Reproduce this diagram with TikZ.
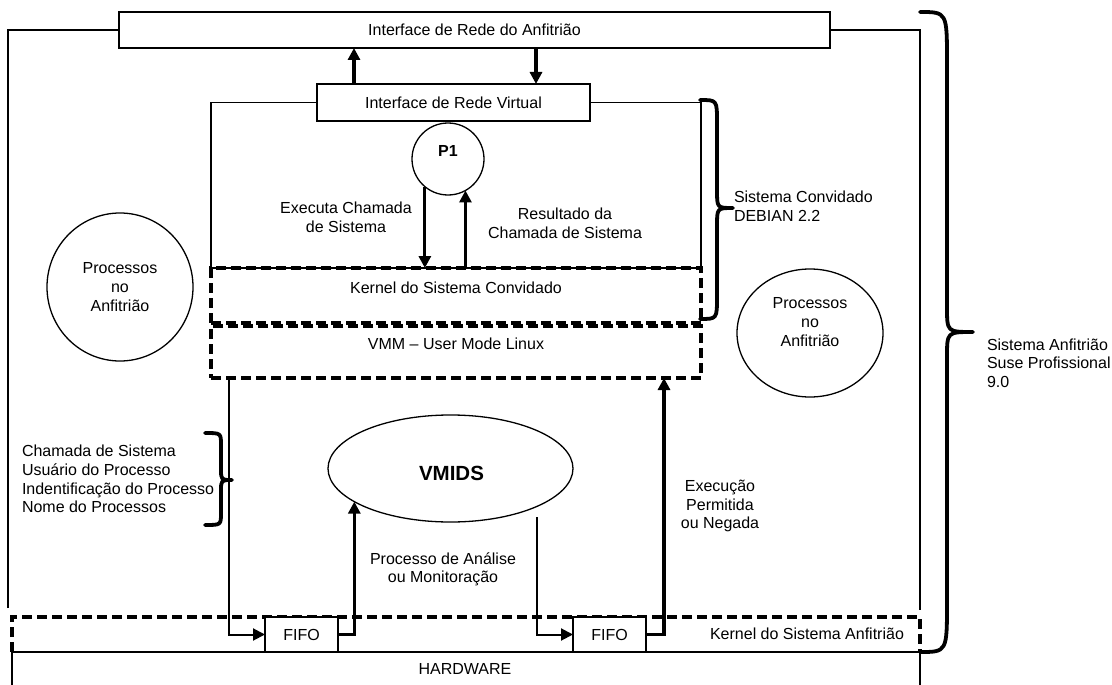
\documentclass[tikz,border=0pt]{standalone}
\usepackage{fontspec}
\setmainfont{Liberation Sans}
\usetikzlibrary{arrows.meta,shapes.geometric}

% right-facing curly brace: (x top/bottom ends, y top, y bottom, x spine, x tip, y tip, end radius, tip radius)
\newcommand{\drawbrace}[8]{%
  \draw[brace] (#1,#2) .. controls (#4,#2) .. (#4,#2+#7) -- (#4,#6-#8)
    .. controls (#4,#6) .. (#5,#6) .. controls (#4,#6) .. (#4,#6+#8)
    -- (#4,#3-#7) .. controls (#4,#3) .. (#1,#3);}

\begin{document}
\begin{tikzpicture}[x=1pt,y=-1pt,
  every node/.style={font=\fontsize{16}{18.6}\selectfont, inner sep=0pt, outer sep=0pt},
  box/.style={draw, rectangle, line width=1.8pt, fill=white},
  dbox/.style={draw, rectangle, line width=3.2pt, dash pattern=on 10pt off 5pt},
  dline/.style={line width=3.2pt, dash pattern=on 10pt off 5pt},
  frame/.style={line width=1.8pt},
  blob/.style={draw, ellipse, line width=1.3pt, align=center},
  arr/.style={line width=3.2pt, -{Triangle[length=12pt,width=12pt]}},
  flow/.style={line width=2pt, -{Triangle[length=12pt,width=12pt]}},
  brace/.style={line width=3.8pt, line cap=round, line join=round},
]
\useasboundingbox (0,0) rectangle (1112,685);

% hardware and host kernel at the bottom
\node[box, minimum width=908, minimum height=70, anchor=north west] (hw) at (12,652) {};
\node (hwtxt) at (465,669) {HARDWARE};
\node[minimum width=908, minimum height=35, anchor=north west] (hk) at (12,617) {};
\draw[dline] (hk.south west) -- (hk.north west) -- (hk.north east) -- (hk.south east);
\node (hktxt) at (807,634) {Kernel do Sistema Anfitrião};

% FIFOs sitting in the host kernel
\node[box, minimum width=73, minimum height=35] (fifo1) at (301.5,634.5) {FIFO};
\node[box, minimum width=73, minimum height=35] (fifo2) at (609.5,634.5) {FIFO};

% network interfaces
\node[box, minimum width=711, minimum height=36] (hostnic) at (474.5,30) {Interface de Rede do Anfitrião};
\node[box, minimum width=273, minimum height=37] (vnic) at (453.5,102.5) {Interface de Rede Virtual};

% host system frame
\coordinate (fl) at (8,608);
\coordinate (fr) at (920,610);
\draw[frame] (fl) |- (hostnic.west);
\draw[frame] (hostnic.east) -| (fr);

% guest kernel and VMM layers
\node[dbox, minimum width=490, minimum height=55] (gkern) at (456,295.5) {};
\node (gktxt) at (456,288) {Kernel do Sistema Convidado};
\node[dbox, minimum width=490, minimum height=52] (vmm) at (456,352) {};
\node (vmmtxt) at (456,344) {VMM – User Mode Linux};

% guest system frame
\draw[frame] (vnic.west) -| (gkern.north west) -- (gkern.north east) |- (vnic.east);

% process P1 inside the guest
\node[draw, circle, line width=1.3pt, minimum size=72] (p1) at (448,159) {};
\node[font=\fontsize{16}{18.6}\selectfont\bfseries] (p1txt) at (448,151) {P1};
\draw[arr] (p1.230) -- (p1.230 |- gkern.north);
\draw[arr] (p1.299 |- gkern.north) -- (p1.299);
\node[align=center] (execlbl) at (346,217.5) {Executa Chamada\\de Sistema};
\node[align=center] (reslbl) at (565,223.5) {Resultado da\\Chamada de Sistema};

% traffic between the two network interfaces
\coordinate (colA) at (354,0);
\coordinate (colB) at (536,0);
\draw[arr] (colA |- vnic.north) -- (colA |- hostnic.south);
\draw[arr] (colB |- hostnic.south) -- (colB |- vnic.north);

% host processes
\node[blob, minimum width=146, minimum height=148] (procL) at (120,287) {Processos\\no\\Anfitrião};
\node[blob, minimum width=146, minimum height=128] (procR) at (810,333) {};
\node[align=center] (procRtxt) at (810,322) {Processos\\no\\Anfitrião};

% VMIDS monitor
\node[draw, ellipse, line width=1.3pt, minimum width=245, minimum height=107] (vmids) at (450.5,468.5) {};
\node[font=\fontsize{20.5}{24}\selectfont\bfseries] (vmidstxt) at (451.5,473) {VMIDS};

% system call path through the FIFOs
\coordinate (callout) at (229,378);
\coordinate (vout) at (537,517);
\coordinate (vin) at (664,378);
\draw[flow] (callout) |- (fifo1.west);
\draw[arr] (fifo1.east) -| (vmids.199.3);
\draw[flow] (vout) |- (fifo2.west);
\draw[arr] (fifo2.east) -| (vin);

\node[align=center] (analbl) at (443,569.5) {Processo de Análise\\ou Monitoração};
\node[align=center] (perlbl) at (720,506) {Execução\\Permitida\\ou Negada};
\node[align=left, anchor=west] (infolbl) at (22,479) {Chamada de Sistema\\Usuário do Processo\\Indentificação do Processo\\Nome do Processos};

% braces and their captions
\drawbrace{205}{433}{525}{221}{232}{480}{12}{11}
\drawbrace{700}{100}{319}{717}{733}{208}{22}{18}
\drawbrace{920}{12}{652}{947}{973}{332}{50}{25}
\node[align=left, anchor=west] (guestlbl) at (734,206) {Sistema Convidado\\DEBIAN 2.2};
\node[align=left, anchor=west] (hostlbl) at (987,363) {Sistema Anfitrião\\Suse Profissional\\9.0};
\end{tikzpicture}
\end{document}
